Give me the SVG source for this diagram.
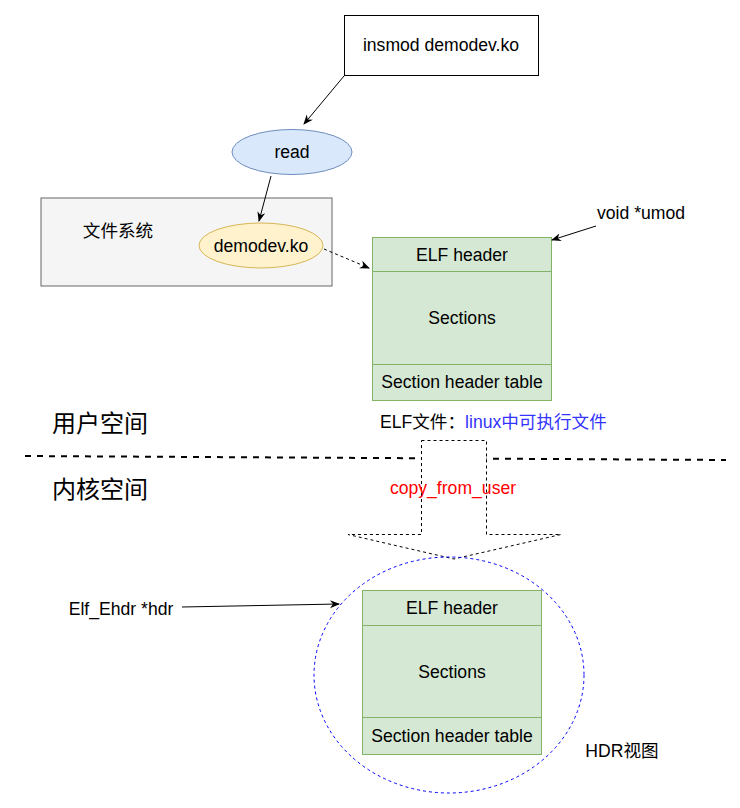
<svg xmlns="http://www.w3.org/2000/svg" width="740" height="808" viewBox="0 0 740 808">
<defs>
<style>
text{font-family:"Liberation Sans","Noto Sans CJK SC",sans-serif;font-size:17.6px;fill:#000;text-anchor:middle;dominant-baseline:central}
.l{text-anchor:start}
.red{fill:#ff0000}
.blue{fill:#3333ff}
.elf{fill:#d5e8d4;stroke:#82b366;stroke-width:1}
.ln{stroke:#000;stroke-width:1;fill:none}
.big{font-size:24px}
</style>
<marker id="ar" viewBox="0 0 10 10" refX="9" refY="5" markerWidth="10" markerHeight="10" markerUnits="userSpaceOnUse" orient="auto">
<path d="M0,1 L10,5 L0,9 L3,5 Z" fill="#000"/>
</marker>
</defs>
<g id="fs">
<rect x="41" y="198" width="291" height="88" fill="#f5f5f5" stroke="#666"/>
<text x="118" y="231">文件系统</text>
</g>
<g id="insmod">
<rect x="344.5" y="15.5" width="194" height="60" fill="#fff" stroke="#000"/>
<text x="441" y="45">insmod demodev.ko</text>
</g>
<g id="read">
<ellipse cx="292" cy="152" rx="60" ry="22.5" fill="#dae8fc" stroke="#6c8ebf"/>
<text x="292" y="152">read</text>
</g>
<g id="demodev">
<ellipse cx="261" cy="245.5" rx="62" ry="22.5" fill="#fff2cc" stroke="#d6b656"/>
<text x="261" y="245.5">demodev.ko</text>
</g>
<g id="elf-user">
<rect class="elf" x="372.5" y="237.5" width="179" height="34"/>
<rect class="elf" x="372.5" y="271.5" width="179" height="93"/>
<rect class="elf" x="372.5" y="364.5" width="179" height="36"/>
<text x="462" y="254.5">ELF header</text>
<text x="462" y="318">Sections</text>
<text x="462" y="382">Section header table</text>
</g>
<g id="umod"><text x="641" y="213">void *umod</text></g>
<g id="labels">
<text class="big l" x="52" y="423">用户空间</text>
<text class="big l" x="52" y="489">内核空间</text>
<text class="l" x="380" y="422">ELF文件：<tspan class="blue">linux中可执行文件</tspan></text>
</g>
<line x1="25" y1="456" x2="726" y2="460" stroke="#000" stroke-width="2" stroke-dasharray="6 6"/>
<g id="big-arrow">
<path d="M421.5,440.5 H486.5 V534.5 H561 L454,559 L348,534.5 H421.5 Z" fill="#fff" stroke="#000" stroke-dasharray="3 3"/>
<text class="red" x="453" y="488">copy_from_user</text>
</g>
<g id="hdr">
<ellipse cx="449" cy="675" rx="135" ry="118" fill="none" stroke="#0000ff" stroke-dasharray="3 3"/>
<rect class="elf" x="362.5" y="590.5" width="179" height="35"/>
<rect class="elf" x="362.5" y="625.5" width="179" height="92"/>
<rect class="elf" x="362.5" y="717.5" width="179" height="37"/>
<text x="452" y="608">ELF header</text>
<text x="452" y="672">Sections</text>
<text x="452" y="736">Section header table</text>
</g>
<g id="ehdr"><text x="121" y="609">Elf_Ehdr *hdr</text></g>
<g id="hdrlabel"><text x="622" y="751">HDR视图</text></g>
<g id="connectors">
<line class="ln" x1="344" y1="76" x2="304" y2="124" marker-end="url(#ar)"/>
<line class="ln" x1="271" y1="176" x2="259" y2="221" marker-end="url(#ar)"/>
<line class="ln" x1="324" y1="249" x2="369" y2="268" stroke-dasharray="3 3" marker-end="url(#ar)"/>
<line class="ln" x1="596" y1="226" x2="552" y2="240" marker-end="url(#ar)"/>
<line class="ln" x1="182" y1="607" x2="339" y2="604" marker-end="url(#ar)"/>
</g>
</svg>
